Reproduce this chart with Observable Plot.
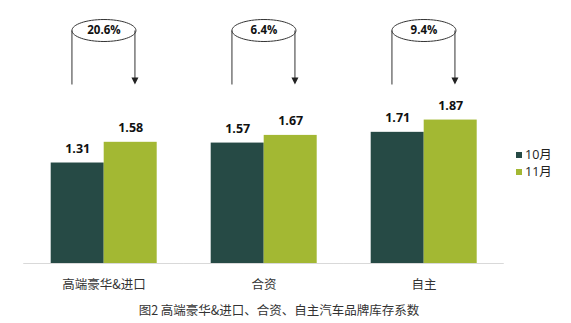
<!DOCTYPE html>
<html><head><meta charset="utf-8">
<script src="https://cdn.jsdelivr.net/npm/d3@7"></script>
<script src="https://cdn.jsdelivr.net/npm/@observablehq/plot@0.6"></script>
<style>
html,body{margin:0;padding:0;background:#fff;}
#wrap{position:relative;width:571px;height:323px;overflow:hidden;font-family:"Noto Sans CJK SC","Noto Sans",sans-serif;}
#legend{position:absolute;left:516px;top:146px;font-size:12.5px;color:#222;font-family:"Open Sans","Noto Sans CJK SC",sans-serif;}
#legend div{display:flex;align-items:center;height:17px;line-height:17px;}
#legend span.sw{display:inline-block;width:6px;height:6px;margin-right:3px;}
#caption{position:absolute;left:0;width:558px;top:302px;text-align:center;font-size:12.5px;line-height:16px;color:#333;}
</style></head>
<body><div id="wrap"><div id="chart"></div><div id="legend"></div><div id="caption"></div></div>
<script>
const categories = ["高端豪华&进口", "合资", "自主"];
const months = ["10月", "11月"];
const octValues = [1.31, 1.57, 1.71];
const novValues = [1.58, 1.67, 1.87];
const growthLabels = ["20.6%", "6.4%", "9.4%"];
const colors = ["#264a45", "#a3b833"];
const captionText = "图2 高端豪华&进口、合资、自主汽车品牌库存系数";

const data = categories.flatMap((c, i) => [
  {cat: c, month: months[0], value: octValues[i], growth: growthLabels[i]},
  {cat: c, month: months[1], value: novValues[i], growth: growthLabels[i]}
]);

const RX = 32, RY = 11, K = 0.5523;
const cylinder = {draw(ctx) {
  ctx.moveTo(RX, 0);
  ctx.bezierCurveTo(RX, RY*K, RX*K, RY, 0, RY);
  ctx.bezierCurveTo(-RX*K, RY, -RX, RY*K, -RX, 0);
  ctx.bezierCurveTo(-RX, -RY*K, -RX*K, -RY, 0, -RY);
  ctx.bezierCurveTo(RX*K, -RY, RX, -RY*K, RX, 0);
  ctx.closePath();
  ctx.moveTo(-RX, 0); ctx.lineTo(-RX, 54);
  ctx.moveTo(RX - 1, 0); ctx.lineTo(RX - 1, 49);
}};
const arrowHead = {draw(ctx) {
  ctx.moveTo(RX - 1 - 3.5, 47);
  ctx.lineTo(RX - 1 + 3.5, 47);
  ctx.lineTo(RX - 1, 54);
  ctx.closePath();
}};

const numFont = "'Open Sans','Noto Sans',sans-serif";
const half = 26.75;

const chart = Plot.plot({
  width: 571,
  height: 323,
  marginLeft: 49.3,
  marginRight: 93.7,
  marginTop: 20,
  marginBottom: 60,
  facet: {data: data, x: "cat", label: null},
  fx: {domain: categories, paddingInner: 1/3, paddingOuter: 0, axis: null, label: null},
  x: {domain: months, padding: 0, axis: null},
  y: {domain: [0, 3.168], axis: null},
  color: {domain: months, range: colors},
  marks: [
    Plot.barY(data, {x: "month", y: "value", fill: "month"}),
    Plot.ruleY([0], {stroke: "#d9d9d9", strokeWidth: 1, insetLeft: -half, insetRight: -half}),
    Plot.text(data, {x: "month", y: "value", text: d => d.value.toFixed(2), dy: -14, fontSize: 12.5, fontWeight: "bold", fill: "#111", fontFamily: numFont}),
    Plot.dot(data, {filter: d => d.month === months[1], x: "month", frameAnchor: "top", dx: -half, dy: 10, symbol: cylinder, fill: "white", stroke: "#333", strokeWidth: 1}),
    Plot.dot(data, {filter: d => d.month === months[1], x: "month", frameAnchor: "top", dx: -half, dy: 10, symbol: arrowHead, fill: "#222", stroke: "none"}),
    Plot.text(data, {filter: d => d.month === months[1], x: "month", frameAnchor: "top", lineAnchor: "middle", dx: -half, dy: 10, text: "growth", fontSize: 11.5, fontWeight: "bold", fill: "#111", fontFamily: numFont}),
    Plot.text(data, {filter: d => d.month === months[1], x: "month", frameAnchor: "bottom", lineAnchor: "middle", dx: -half, dy: 21, text: "cat", fontSize: 12.5, fill: "#333", fontFamily: "'Noto Sans CJK SC',sans-serif"})
  ]
});
document.getElementById("chart").appendChild(chart);

const legend = document.getElementById("legend");
months.forEach((m, i) => {
  const row = document.createElement("div");
  const sw = document.createElement("span");
  sw.className = "sw";
  sw.style.background = colors[i];
  row.appendChild(sw);
  row.appendChild(document.createTextNode(m));
  legend.appendChild(row);
});
document.getElementById("caption").textContent = captionText;
</script>
</body></html>
